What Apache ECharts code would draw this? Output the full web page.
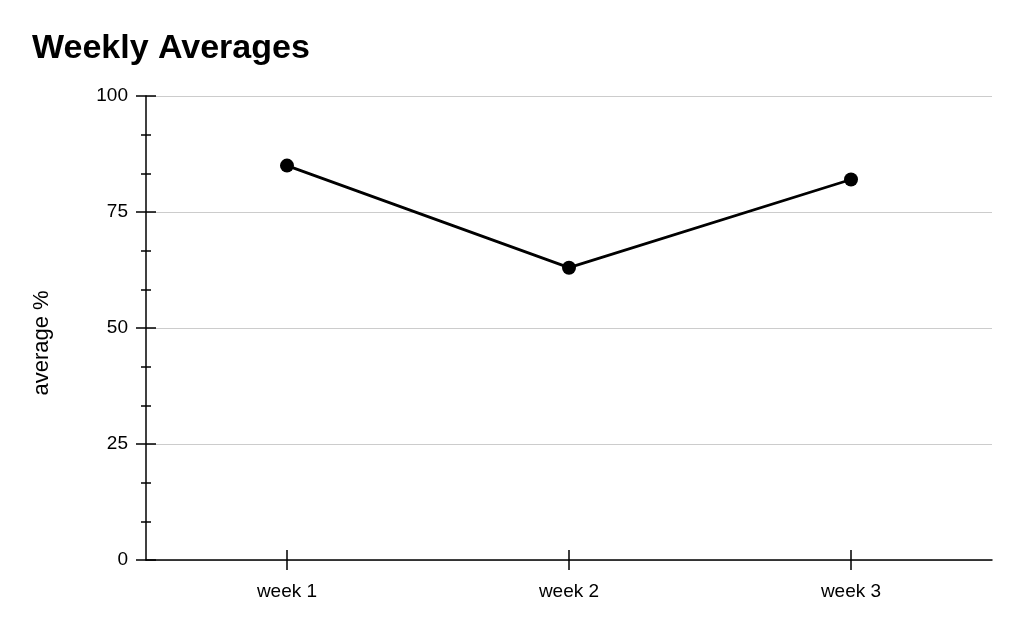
<!DOCTYPE html>
<html>
<head>
<meta charset="utf-8">
<script src="https://cdn.jsdelivr.net/npm/echarts@6/dist/echarts.min.js"></script>
<style>html,body{margin:0;padding:0;background:#fff}#c{width:1024px;height:633px}</style>
</head>
<body>
<div id="c"></div>
<script>
const categories = ['week 1', 'week 2', 'week 3'];
const averages = [85, 63, 82];
const yMin = 0, yMax = 100, yInterval = 25;

const font = 'Liberation Sans, Arial, Helvetica, sans-serif';
const chart = echarts.init(document.getElementById('c'), null, {renderer: 'canvas'});
chart.setOption({
  animation: false,
  backgroundColor: '#fff',
  title: {
    text: 'Weekly Averages',
    left: 27, top: 27,
    textStyle: {fontFamily: font, fontSize: 34, fontWeight: 'bold', color: '#000'}
  },
  grid: {left: 146, right: 32, top: 96, bottom: 73, containLabel: false},
  xAxis: [{
    type: 'category', data: categories, position: 'bottom',
    axisLine: {show: true, lineStyle: {color: '#000', width: 1.5}},
    axisTick: {show: true, alignWithLabel: true, length: 10, inside: false, lineStyle: {color: '#000', width: 1.5}},
    axisLabel: {color: '#000', fontSize: 19, fontFamily: font, margin: 22},
    splitLine: {show: false}
  }, {
    type: 'category', data: categories, position: 'bottom',
    axisLine: {show: false},
    axisTick: {show: true, alignWithLabel: true, length: 10, inside: true, lineStyle: {color: '#000', width: 1.5}},
    axisLabel: {show: false},
    splitLine: {show: false}
  }],
  yAxis: [{
    type: 'value', min: yMin, max: yMax, interval: yInterval, position: 'left',
    name: 'average %', nameLocation: 'middle', nameGap: 93,
    nameTextStyle: {color: '#000', fontSize: 22, fontFamily: font, padding: [0, 30, 0, 0]},
    axisLine: {show: true, lineStyle: {color: '#000', width: 1.5}},
    axisTick: {show: true, length: 10, lineStyle: {color: '#000', width: 1.5}},
    minorTick: {show: true, splitNumber: 3, length: 5, lineStyle: {color: '#000', width: 1.5}},
    axisLabel: {color: '#000', fontSize: 19, fontFamily: font, margin: 18},
    splitLine: {show: true, lineStyle: {color: '#cccccc', width: 1}}
  }, {
    type: 'value', min: yMin, max: yMax, interval: yInterval, position: 'left', offset: 0,
    axisLine: {show: false},
    axisTick: {show: true, inside: true, length: 10, lineStyle: {color: '#000', width: 1.5}},
    minorTick: {show: true, splitNumber: 3, length: 5, lineStyle: {color: '#000', width: 1.5}},
    axisLabel: {show: false},
    splitLine: {show: false}
  }],
  series: [{
    type: 'line', data: averages, xAxisIndex: 0, yAxisIndex: 0,
    symbol: 'circle', symbolSize: 14,
    lineStyle: {color: '#000', width: 2.8},
    itemStyle: {color: '#000'},
    z: 5
  }]
});
</script>
</body>
</html>
